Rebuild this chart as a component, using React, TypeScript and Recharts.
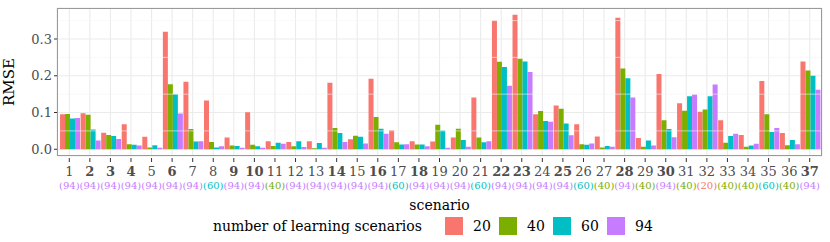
import React from 'react';
import {
  BarChart,
  Bar,
  XAxis,
  YAxis,
  CartesianGrid,
  ReferenceLine,
  Legend,
} from 'recharts';

const scenarios = Array.from({ length: 37 }, (_, i) => String(i + 1));
const boldScenarios = ['2', '3', '4', '6', '9', '10', '14', '16', '18', '22', '23', '25', '28', '30', '37'];
const bestCounts = [
  '94', '94', '94', '94', '94', '94', '94', '60', '94', '94', '40', '94', '94', '94', '94', '94', '60', '94', '94',
  '94', '60', '94', '94', '94', '94', '60', '40', '94', '40', '94', '40', '20', '40', '40', '60', '40', '94',
];

const rmse20 = [
  0.095, 0.098, 0.045, 0.068, 0.034, 0.32, 0.184, 0.133, 0.032, 0.101, 0.022, 0.02, 0.022, 0.181, 0.027, 0.192,
  0.052, 0.022, 0.021, 0.032, 0.141, 0.35, 0.366, 0.095, 0.119, 0.068, 0.035, 0.358, 0.031, 0.205, 0.125, 0.102,
  0.079, 0.039, 0.186, 0.044, 0.239,
];
const rmse40 = [
  0.096, 0.094, 0.039, 0.014, 0.005, 0.177, 0.055, 0.02, 0.01, 0.012, 0.009, 0.008, 0.003, 0.058, 0.037, 0.088,
  0.019, 0.013, 0.067, 0.056, 0.032, 0.238, 0.246, 0.104, 0.11, 0.014, 0.005, 0.22, 0.007, 0.079, 0.105, 0.108,
  0.018, 0.007, 0.095, 0.011, 0.214,
];
const rmse60 = [
  0.084, 0.054, 0.036, 0.012, 0.011, 0.15, 0.021, 0.005, 0.009, 0.008, 0.018, 0.022, 0.017, 0.044, 0.034, 0.056,
  0.013, 0.013, 0.051, 0.025, 0.019, 0.224, 0.239, 0.077, 0.07, 0.012, 0.009, 0.193, 0.024, 0.055, 0.144, 0.144,
  0.036, 0.01, 0.047, 0.025, 0.2,
];
const rmse94 = [
  0.085, 0.024, 0.028, 0.01, 0.004, 0.097, 0.022, 0.008, 0.004, 0.004, 0.015, 0.006, 0.004, 0.02, 0.016, 0.042,
  0.014, 0.008, 0.004, 0.007, 0.022, 0.173, 0.21, 0.075, 0.038, 0.016, 0.007, 0.141, 0.01, 0.033, 0.149, 0.176,
  0.042, 0.015, 0.058, 0.014, 0.162,
];

const seriesKeys = ['20', '40', '60', '94'];
const seriesColors: Record<string, string> = {
  '20': '#F8766D',
  '40': '#7CAE00',
  '60': '#00BFC4',
  '94': '#C77CFF',
};

const data = scenarios.map((s, i) => ({
  scenario: s,
  best: bestCounts[i],
  '20': rmse20[i],
  '40': rmse40[i],
  '60': rmse60[i],
  '94': rmse94[i],
}));

const FONT = 'DejaVu Serif';
const minorLines = [0.05, 0.15, 0.25, 0.35];

function ScenarioTick(props: any) {
  const { x, y, payload, index } = props;
  const s = payload.value as string;
  const best = bestCounts[index];
  const bold = boldScenarios.includes(s);
  return (
    <g>
      <line x1={x} x2={x} y1={y - 4} y2={y} stroke="#333" strokeWidth={1} />
      <text
        x={x}
        y={y + 14}
        textAnchor="middle"
        style={{ fontFamily: FONT }}
        fontSize={13}
        fontWeight={bold ? 'bold' : 'normal'}
        fill="#4D4D4D"
      >
        {s}
      </text>
      <text
        x={x}
        y={y + 27}
        textAnchor="middle"
        style={{ fontFamily: FONT }}
        fontSize={10}
        fill={seriesColors[best]}
      >
        ({best})
      </text>
    </g>
  );
}

function LegendBox() {
  return (
    <div style={{ position: 'relative', width: 830, height: 28, fontFamily: FONT, fontSize: 14, color: '#000' }}>
      <span style={{ position: 'absolute', left: 213, top: 4 }}>number of learning scenarios</span>
      {seriesKeys.map((k, i) => (
        <React.Fragment key={k}>
          <span
            style={{
              position: 'absolute',
              left: 445 + i * 54,
              top: 3,
              width: 18,
              height: 18,
              background: seriesColors[k],
            }}
          />
          <span style={{ position: 'absolute', left: 473 + i * 54, top: 4 }}>{k}</span>
        </React.Fragment>
      ))}
    </div>
  );
}

export default function App() {
  return (
    <div style={{ position: 'absolute', left: 0, top: 0, width: 830, height: 242, background: '#fff' }}>
      <BarChart
        width={830}
        height={242}
        data={data}
        margin={{ top: 8, right: 8, bottom: 0, left: 0 }}
        barCategoryGap="5%"
        barGap={0}
      >
        <CartesianGrid stroke="#EBEBEB" strokeWidth={1.1} />
        {minorLines.map((v) => (
          <ReferenceLine key={v} y={v} stroke="#F5F5F5" strokeWidth={0.6} />
        ))}
        <XAxis
          dataKey="scenario"
          interval={0}
          height={58}
          padding={{ left: 2, right: 2 }}
          axisLine={false}
          tickLine={false}
          tickSize={4}
          tick={<ScenarioTick />}
          label={{
            value: 'scenario',
            position: 'insideBottom',
            offset: 4,
            style: { fontFamily: FONT, fontSize: 14, fill: '#000' },
          }}
        />
        <YAxis
          width={57}
          domain={[-0.0183, 0.3843]}
          ticks={[0, 0.1, 0.2, 0.3]}
          allowDataOverflow
          axisLine={false}
          tickSize={3}
          tickLine={{ stroke: '#333' }}
          tickFormatter={(v: number) => v.toFixed(1)}
          tick={{ style: { fontFamily: FONT }, fontSize: 13, fill: '#4D4D4D' }}
          label={{
            value: 'RMSE',
            angle: -90,
            position: 'insideLeft',
            offset: 9,
            style: { fontFamily: FONT, fontSize: 15, fill: '#000', textAnchor: 'middle' },
          }}
        />
        {seriesKeys.map((k) => (
          <Bar key={k} dataKey={k} fill={seriesColors[k]} isAnimationActive={false} />
        ))}
        <Legend verticalAlign="bottom" content={() => <LegendBox />} />
      </BarChart>
      <div
        style={{
          position: 'absolute',
          left: 57,
          top: 8,
          width: 765,
          height: 148,
          border: '1px solid #9a9a9a',
          boxSizing: 'border-box',
          pointerEvents: 'none',
        }}
      />
    </div>
  );
}
